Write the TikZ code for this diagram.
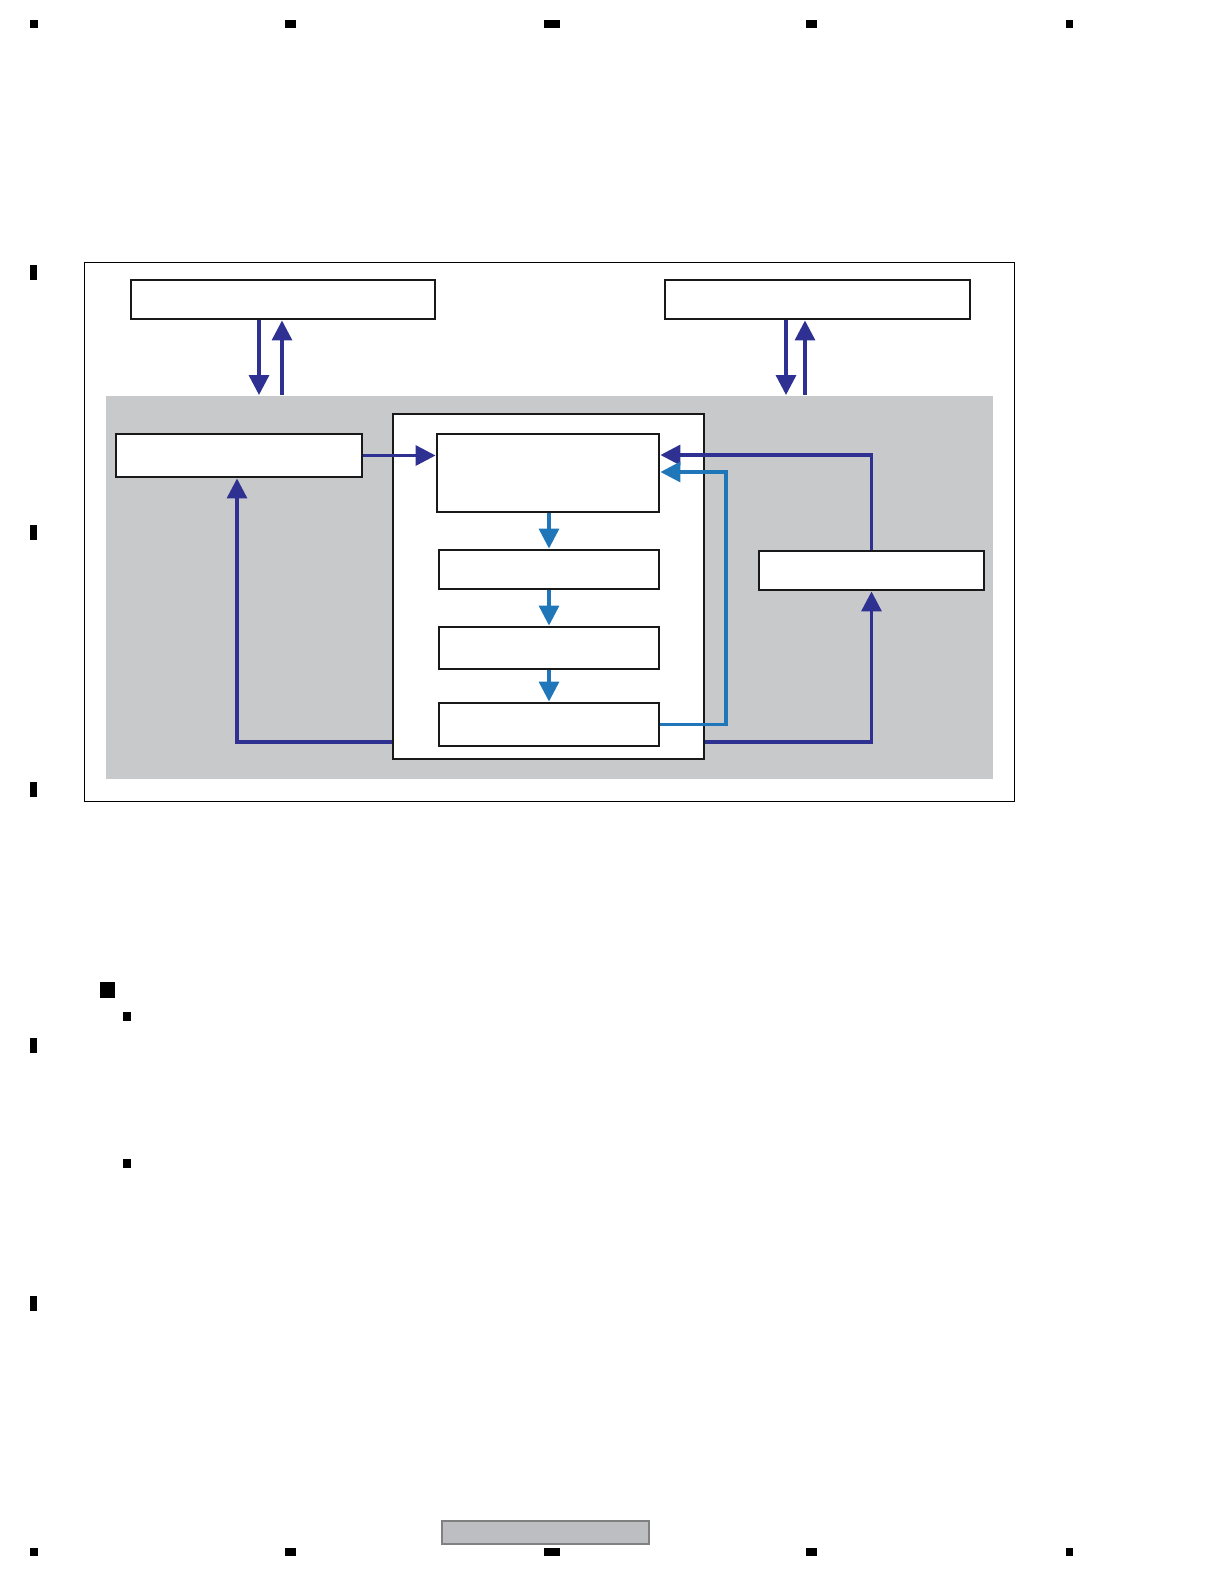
\documentclass[tikz,border=0pt]{standalone}
\usetikzlibrary{arrows.meta,fit}
\definecolor{darkarrow}{HTML}{2E3192}
\definecolor{lightarrow}{HTML}{1F77BA}
\definecolor{panelgray}{HTML}{C8C9CB}
\definecolor{footgray}{HTML}{BDBEC2}
\begin{document}
\begin{tikzpicture}[x=0.75pt,y=-0.75pt,
  box/.style={draw=black!90,line width=2.2pt,fill=white,inner sep=0pt},
  darkline/.style={draw=darkarrow,line width=2.5pt,-{Triangle[length=15pt,width=15pt]}},
  lightline/.style={draw=lightarrow,line width=2.5pt,-{Triangle[length=15pt,width=15pt]}},
  regmark/.style={fill=black,draw=none}]
\useasboundingbox (0,0) rectangle (1224,1584);
\fill[white] (0,0) rectangle (1224,1584);
% registration marks
\foreach \a/\b in {30/38,285/296,544/560,806/817,1066/1073}{
  \fill[regmark] (\a,20) rectangle (\b,28);
  \fill[regmark] (\a,1548) rectangle (\b,1556);
}
\foreach \c in {272.5,532,789,1045,1303}{
  \fill[regmark] (30,\c-7.5) rectangle (37,\c+7.5);
}
\fill[regmark] (100,982) rectangle (115,998);
\fill[regmark] (123,1012) rectangle (131,1021);
\fill[regmark] (123,1159) rectangle (131,1168);
% footer
\node[draw=black!50,line width=0.9pt,fill=footgray,inner sep=0pt,fit={(442,1521) (649,1544)}] (footer) {};
% frame and panel
\node[draw=black,line width=0.7pt,inner sep=0pt,fit={(84,262) (1014,801)}] (frame) {};
\node[fill=panelgray,inner sep=0pt,fit={(106,396) (993,779)}] (panel) {};
% boxes
\node[box,fit={(131,280) (435,319)}] (tl) {};
\node[box,fit={(665,280) (970,319)}] (tr) {};
\node[box,fit={(116,434) (362,477)}] (lb) {};
\node[box,fit={(393,414) (704,759)}] (inner) {};
\node[box,fit={(437,434) (659,512)}] (ba) {};
\node[box,fit={(439,550) (659,589)}] (bb) {};
\node[box,fit={(439,627) (659,669)}] (bc) {};
\node[box,fit={(439,703) (659,746)}] (bd) {};
\node[box,fit={(759,551) (984,590)}] (be) {};
% free ends at panel top
\coordinate (tlin) at (259,395);
\coordinate (tlout) at (282,395);
\coordinate (trin) at (786,395);
\coordinate (trout) at (805,395);
% top arrows
\draw[darkline] (tl.south -| tlin) -- (tlin);
\draw[darkline] (tlout) -- (tl.south -| tlout);
\draw[darkline] (tr.south -| trin) -- (trin);
\draw[darkline] (trout) -- (tr.south -| trout);
% left box to A
\draw[darkline] (lb.east) -- (lb.east -| ba.west);
% chain
\draw[lightline] (ba.south -| bb.north) -- (bb.north);
\draw[lightline] (bb.south) -- (bc.north);
\draw[lightline] (bc.south) -- (bd.north);
% E to A
\draw[darkline] (be.north) |- (ba.east |- 0,455);
% D to A feedback
\draw[lightline] (bd.east) -- (726,724.5) |- (ba.east |- 0,472);
% inner to left box
\draw[darkline] (inner.west |- 0,742) -| (lb.south -| 237,0);
% inner to E
\draw[darkline] (inner.east |- 0,742) -| (be.south);
\end{tikzpicture}
\end{document}
